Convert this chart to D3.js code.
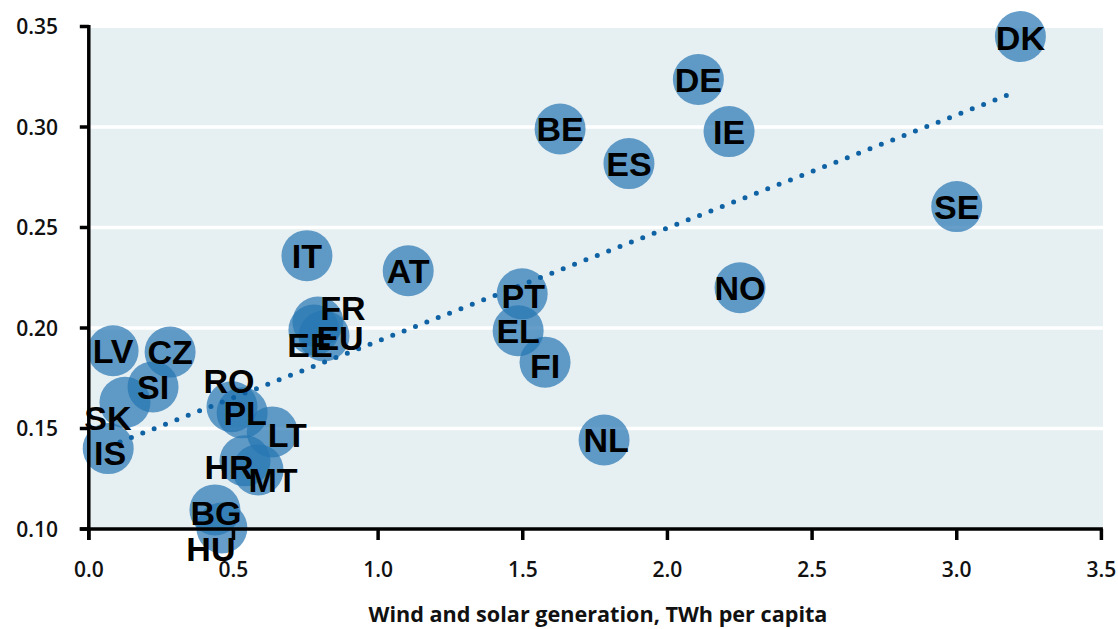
<!DOCTYPE html>
<html>
<head>
<meta charset="utf-8">
<script src="https://cdn.jsdelivr.net/npm/d3@7"></script>
<style>
  html, body { margin: 0; padding: 0; background: #ffffff; }
  svg { display: block; }
</style>
</head>
<body>
<svg id="chart" width="1118" height="629"></svg>
<script>
// ---- data ----
const countries = ["DK","DE","IE","BE","ES","SE","NO","IT","AT","PT","EL","FI","NL",
                   "FR","EE","EU","LV","CZ","SI","SK","IS","RO","PL","LT","HR","MT","BG","HU"];
const windSolar = [3.22, 2.107, 2.213, 1.629, 1.867, 3.00, 2.251, 0.754, 1.104, 1.498, 1.484, 1.577, 1.781,
                   0.792, 0.778, 0.813, 0.084, 0.281, 0.222, 0.125, 0.067, 0.495, 0.530, 0.634, 0.540, 0.585, 0.436, 0.460];
const yValues  = [0.345, 0.3236, 0.2977, 0.299, 0.2818, 0.2604, 0.220, 0.236, 0.2285, 0.217, 0.1986, 0.183, 0.1443,
                   0.203, 0.199, 0.196, 0.1887, 0.188, 0.1707, 0.163, 0.140, 0.1608, 0.1578, 0.1483, 0.1339, 0.1294, 0.1095, 0.1005];
const trendX = [0.108, 3.195];
const trendY = [0.1433, 0.317];
const xTicks = [0.0, 0.5, 1.0, 1.5, 2.0, 2.5, 3.0, 3.5];
const yTicks = [0.10, 0.15, 0.20, 0.25, 0.30, 0.35];
const xTitle = "Wind and solar generation, TWh per capita";

// ---- layout (label nudges in pixels) ----
const labelNudge = {
  FR: [25, -14], EE: [-4, 15], EU: [16, 2], SK: [-17, 15], IS: [2, 4],
  RO: [-3, -26], PL: [3, 0], LT: [15, 3], HR: [-16, 6], MT: [15, 10],
  BG: [1, 3], HU: [-11, 21], PT: [1, 2], FI: [0, 4], NL: [2, 0], DK: [0, 1]
};

const svg = d3.select("#chart");
const x = d3.scaleLinear().domain([0, 3.5]).range([88.8, 1101.4]);
const y = d3.scaleLinear().domain([0.10, 0.35]).range([529, 26.5]);

const plotTop = 28, plotRight = 1103;

// background
svg.append("rect")
  .attr("x", x(0)).attr("y", plotTop)
  .attr("width", plotRight - x(0)).attr("height", y(0.10) - plotTop)
  .attr("fill", "#e6eff2");

// gridlines
svg.append("g").selectAll("line")
  .data(yTicks.filter(d => d > 0.10 && d < 0.35))
  .join("line")
  .attr("x1", x(0)).attr("x2", plotRight)
  .attr("y1", d => y(d)).attr("y2", d => y(d))
  .attr("stroke", "#ffffff").attr("stroke-width", 3.5);

const points = countries.map((c, i) => ({ c, x: windSolar[i], y: yValues[i] }));

// bubbles
svg.append("g").selectAll("circle")
  .data(points)
  .join("circle")
  .attr("cx", d => x(d.x)).attr("cy", d => y(d.y))
  .attr("r", 25.5)
  .attr("fill", "#2575b2")
  .attr("fill-opacity", 0.7);

// axes
const axisG = svg.append("g");
axisG.append("line")
  .attr("x1", x(0)).attr("x2", x(0))
  .attr("y1", y(0.35) - 1.5).attr("y2", y(0.10) + 11)
  .attr("stroke", "#000").attr("stroke-width", 3.5);
axisG.append("line")
  .attr("x1", x(0) - 9).attr("x2", x(3.5) + 1.5)
  .attr("y1", y(0.10)).attr("y2", y(0.10))
  .attr("stroke", "#000").attr("stroke-width", 3.5);
axisG.selectAll(".yt").data(yTicks).join("line")
  .attr("x1", x(0) - 9).attr("x2", x(0))
  .attr("y1", d => y(d)).attr("y2", d => y(d))
  .attr("stroke", "#000").attr("stroke-width", 3.5);
axisG.selectAll(".xt").data(xTicks).join("line")
  .attr("x1", d => x(d)).attr("x2", d => x(d))
  .attr("y1", y(0.10)).attr("y2", y(0.10) + 11)
  .attr("stroke", "#000").attr("stroke-width", 3.5);

// trend line
svg.append("path")
  .datum(trendX.map((v, i) => [v, trendY[i]]))
  .attr("d", d3.line().x(d => x(d[0])).y(d => y(d[1])))
  .attr("fill", "none")
  .attr("stroke", "#0f62a3")
  .attr("stroke-width", 5)
  .attr("stroke-linecap", "round")
  .attr("stroke-dasharray", "0 12.2");

// country labels
svg.append("g").selectAll("text")
  .data(points)
  .join("text")
  .attr("x", d => x(d.x) + (labelNudge[d.c] ? labelNudge[d.c][0] : 0))
  .attr("y", d => y(d.y) + (labelNudge[d.c] ? labelNudge[d.c][1] : 0))
  .attr("dy", "0.36em")
  .attr("text-anchor", "middle")
  .attr("font-family", "'Liberation Sans', Arial, sans-serif")
  .attr("font-weight", "bold")
  .attr("font-size", 34)
  .attr("fill", "#000")
  .text(d => d.c);

// tick labels
const tickFont = "'Open Sans', sans-serif";
svg.append("g").selectAll("text").data(yTicks).join("text")
  .attr("x", 58).attr("y", d => y(d)).attr("dy", "0.36em")
  .attr("text-anchor", "end")
  .attr("font-family", tickFont).attr("font-weight", 600).attr("font-size", 21)
  .attr("fill", "#111")
  .text(d => d3.format(".2f")(d));
svg.append("g").selectAll("text").data(xTicks).join("text")
  .attr("x", d => x(d)).attr("y", 577)
  .attr("text-anchor", "middle")
  .attr("font-family", tickFont).attr("font-weight", 600).attr("font-size", 21)
  .attr("fill", "#111")
  .text(d => d3.format(".1f")(d));

// axis title
const t = svg.append("text")
  .attr("x", 598).attr("y", 622)
  .attr("text-anchor", "middle")
  .attr("font-family", tickFont).attr("font-weight", 700).attr("font-size", 19)
  .attr("fill", "#111")
  .text(xTitle);
const w = t.node().getComputedTextLength();
if (w > 0) t.attr("font-size", 19 * 459 / w);
</script>
</body>
</html>
